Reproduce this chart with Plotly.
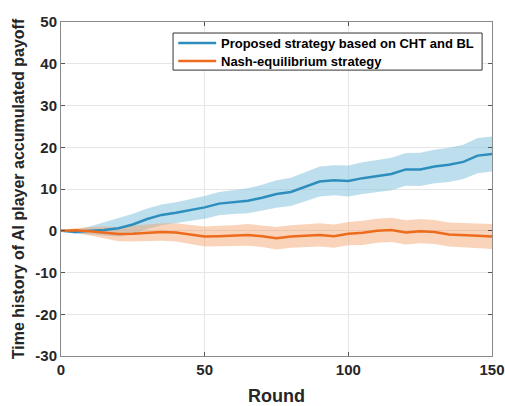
import plotly.graph_objects as go

rounds = [0, 5, 10, 15, 20, 25, 30, 35, 40, 45, 50, 55, 60, 65, 70, 75, 80, 85, 90, 95, 100,
          105, 110, 115, 120, 125, 130, 135, 140, 145, 150]
proposed_mean = [0, -0.3, 0, 0.2, 0.6, 1.5, 2.8, 3.8, 4.3, 5.0, 5.6, 6.5, 6.9, 7.2, 7.9, 8.8,
                 9.3, 10.5, 11.8, 12.1, 11.9, 12.6, 13.1, 13.6, 14.7, 14.7, 15.4, 15.8, 16.5, 18.0, 18.4]
proposed_upper = [0, 0.1, 1.0, 2.0, 3.0, 4.1, 5.3, 6.3, 6.8, 7.6, 8.3, 9.3, 9.8, 10.2, 11.0, 12.1,
                  12.7, 14.0, 15.4, 15.7, 15.6, 16.4, 16.9, 17.5, 18.6, 18.7, 19.4, 19.9, 20.6, 22.2, 22.6]
proposed_lower = [0, -0.7, -0.9, -1.2, -1.4, -0.9, 0.4, 1.3, 1.8, 2.4, 2.9, 3.7, 4.0, 4.2, 4.8, 5.5,
                  5.9, 7.0, 8.2, 8.5, 8.2, 8.8, 9.3, 9.7, 10.8, 10.7, 11.4, 11.7, 12.4, 13.8, 14.2]
nash_mean = [0, 0.1, -0.1, -0.4, -0.8, -0.7, -0.5, -0.3, -0.4, -0.9, -1.4, -1.3, -1.2, -1.0, -1.3,
             -1.8, -1.4, -1.2, -1.0, -1.3, -0.7, -0.5, 0.0, 0.2, -0.4, -0.1, -0.3, -0.9, -1.0, -1.2, -1.4]
nash_upper = [0, 0.6, 0.9, 1.0, 0.9, 1.2, 1.5, 1.8, 1.8, 1.4, 1.0, 1.2, 1.3, 1.6, 1.3, 0.9,
              1.3, 1.6, 1.8, 1.5, 2.1, 2.4, 2.9, 3.1, 2.5, 2.8, 2.6, 2.0, 1.9, 1.7, 1.6]
nash_lower = [0, -0.4, -1.1, -1.8, -2.5, -2.6, -2.5, -2.4, -2.6, -3.2, -3.8, -3.8, -3.7, -3.6, -3.9,
              -4.5, -4.1, -4.0, -3.8, -4.1, -3.5, -3.4, -2.9, -2.7, -3.3, -3.0, -3.2, -3.8, -3.9, -4.2, -4.4]
series_names = ["Proposed strategy based on CHT and BL", "Nash-equilibrium strategy"]
x_ticks = [0, 50, 100, 150]
y_ticks = [-30, -20, -10, 0, 10, 20, 30, 40, 50]

BLUE = "#2D8EBE"
ORANGE = "#EC6B1C"

fig = go.Figure()
fig.add_trace(go.Scatter(x=rounds + rounds[::-1], y=proposed_upper + proposed_lower[::-1],
                         fill="toself", fillcolor="rgba(135,196,223,0.55)", line=dict(width=0),
                         showlegend=False, hoverinfo="skip"))
fig.add_trace(go.Scatter(x=rounds + rounds[::-1], y=nash_upper + nash_lower[::-1],
                         fill="toself", fillcolor="rgba(242,160,105,0.45)", line=dict(width=0),
                         showlegend=False, hoverinfo="skip"))
fig.add_trace(go.Scatter(x=rounds, y=proposed_mean, mode="lines",
                         line=dict(color=BLUE, width=2.5), name=series_names[0], showlegend=False))
fig.add_trace(go.Scatter(x=rounds, y=nash_mean, mode="lines",
                         line=dict(color=ORANGE, width=2.5), name=series_names[1], showlegend=False))

# legend box (MATLAB style) drawn in paper coordinates
fig.add_shape(type="rect", xref="paper", yref="paper", x0=0.26, x1=0.977, y0=0.856, y1=0.967,
              line=dict(color="#333333", width=1), fillcolor="white", layer="above")
for i, (name, col) in enumerate(zip(series_names, [BLUE, ORANGE])):
    yc = 0.937 - i * 0.054
    fig.add_shape(type="line", xref="paper", yref="paper", x0=0.272, x1=0.36, y0=yc, y1=yc,
                  line=dict(color=col, width=2.5), layer="above")
    fig.add_annotation(xref="paper", yref="paper", x=0.366, y=yc, xanchor="left", yanchor="middle",
                       text="<b>%s</b>" % name, showarrow=False,
                       font=dict(family="Liberation Sans", size=13, color="black"))

axis_common = dict(showline=True, linecolor="#8a8a8a", linewidth=1, mirror="ticks",
                   ticks="inside", ticklen=4, tickcolor="#555555", automargin=False,
                   showgrid=True, gridcolor="#e6e6e6", gridwidth=1, zeroline=False,
                   tickfont=dict(family="Liberation Sans", size=15, color="#262626"))

fig.update_layout(
    width=505, height=406,
    margin=dict(l=61, r=13, t=22, b=50),
    paper_bgcolor="white", plot_bgcolor="white",
    font=dict(family="Liberation Sans", color="#262626"),
    xaxis=dict(range=[0, 150], tickvals=x_ticks, ticktext=["<b>%d</b>" % v for v in x_ticks],
               title=dict(text="<b>Round</b>", font=dict(size=18), standoff=12), **axis_common),
    yaxis=dict(range=[-30, 50], tickvals=y_ticks,
               ticktext=["<b>%d</b>" % v for v in y_ticks],
               title=dict(text="<b>Time history of AI player accumulated payoff</b>", font=dict(size=16), standoff=6),
               **axis_common),
    showlegend=False,
)

fig.write_html("out.html", config={"displayModeBar": False},
               post_script="document.body.style.margin='0';document.body.style.overflow='hidden';")
